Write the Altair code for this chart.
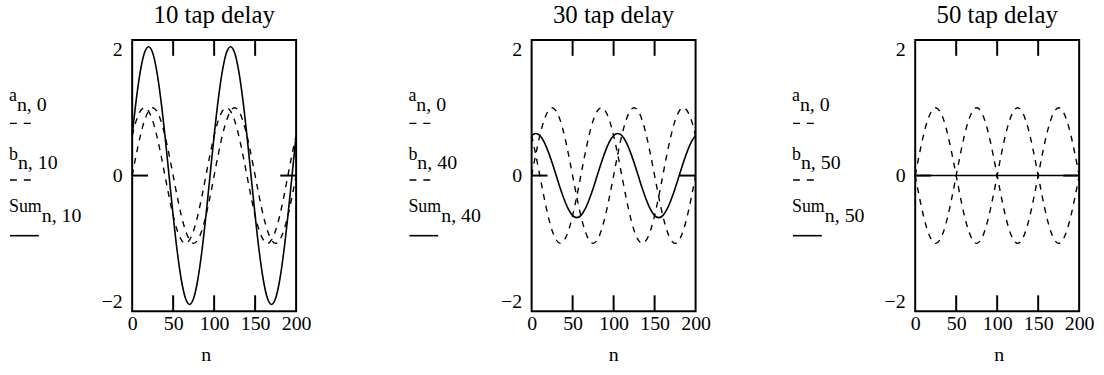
import altair as alt
import pandas as pd

# sample positions (n) and values
n = [0, 5, 10, 15, 20, 25, 30, 35, 40, 45, 50, 55, 60, 65, 70, 75, 80, 85, 90, 95,
     100, 105, 110, 115, 120, 125, 130, 135, 140, 145, 150, 155, 160, 165, 170, 175, 180, 185, 190, 195, 200]

a = [0, .31, .59, .81, .95, 1, .95, .81, .59, .31, 0, -.31, -.59, -.81, -.95, -1, -.95, -.81, -.59, -.31,
     0, .31, .59, .81, .95, 1, .95, .81, .59, .31, 0, -.31, -.59, -.81, -.95, -1, -.95, -.81, -.59, -.31, 0]

b10 = [.59, .81, .95, 1, .95, .81, .59, .31, 0, -.31, -.59, -.81, -.95, -1, -.95, -.81, -.59, -.31, 0, .31,
       .59, .81, .95, 1, .95, .81, .59, .31, 0, -.31, -.59, -.81, -.95, -1, -.95, -.81, -.59, -.31, 0, .31, .59]
s10 = [.59, 1.12, 1.54, 1.81, 1.9, 1.81, 1.54, 1.12, .59, 0, -.59, -1.12, -1.54, -1.81, -1.9, -1.81, -1.54, -1.12, -.59, 0,
       .59, 1.12, 1.54, 1.81, 1.9, 1.81, 1.54, 1.12, .59, 0, -.59, -1.12, -1.54, -1.81, -1.9, -1.81, -1.54, -1.12, -.59, 0, .59]

b40 = [.59, .31, 0, -.31, -.59, -.81, -.95, -1, -.95, -.81, -.59, -.31, 0, .31, .59, .81, .95, 1, .95, .81,
       .59, .31, 0, -.31, -.59, -.81, -.95, -1, -.95, -.81, -.59, -.31, 0, .31, .59, .81, .95, 1, .95, .81, .59]
s40 = [.59, .62, .59, .5, .36, .19, 0, -.19, -.36, -.5, -.59, -.62, -.59, -.5, -.36, -.19, 0, .19, .36, .5,
       .59, .62, .59, .5, .36, .19, 0, -.19, -.36, -.5, -.59, -.62, -.59, -.5, -.36, -.19, 0, .19, .36, .5, .59]

b50 = [0, -.31, -.59, -.81, -.95, -1, -.95, -.81, -.59, -.31, 0, .31, .59, .81, .95, 1, .95, .81, .59, .31,
       0, -.31, -.59, -.81, -.95, -1, -.95, -.81, -.59, -.31, 0, .31, .59, .81, .95, 1, .95, .81, .59, .31, 0]
s50 = [0, 0, 0, 0, 0, 0, 0, 0, 0, 0, 0, 0, 0, 0, 0, 0, 0, 0, 0, 0,
       0, 0, 0, 0, 0, 0, 0, 0, 0, 0, 0, 0, 0, 0, 0, 0, 0, 0, 0, 0, 0]

titles = ["10 tap delay", "30 tap delay", "50 tap delay"]
b_subs = ["n, 10", "n, 40", "n, 50"]
x_tick_values = [0, 50, 100, 150, 200]
y_tick_values = [-2, 0, 2]
inner_ticks = [50, 100, 150]

FONT = "Liberation Serif"
W, H = 165, 273
TICK = 16


def panel(bvals, svals, title, bsub, right_extent, title_x):
    df = pd.DataFrame({"n": n, "a": a, "b": bvals, "s": svals})
    xaxis = alt.Axis(values=x_tick_values, domain=False, ticks=False, grid=False,
                     labelFont=FONT, labelFontSize=20, labelPadding=2, labelColor="black",
                     labelOverlap=False, labelFlush=False,
                     title="n", titleFont=FONT, titleFontSize=20, titleFontWeight="normal",
                     titleColor="black", titleBaseline="alphabetic", titleY=50, titleX=title_x)
    xs = alt.Scale(domain=[0, 200], nice=False, zero=False)
    ys = alt.Scale(domain=[-2, 2], nice=False)
    yaxis = alt.Axis(values=y_tick_values, domain=False, ticks=False, grid=False,
                     labelFont=FONT, labelFontSize=20, labelPadding=10, labelFlush=True,
                     labelOverlap=False, labelColor="black", title=None)
    X = alt.X("n:Q", scale=xs, axis=xaxis)

    base = alt.Chart(df)
    la = base.mark_line(color="black", strokeWidth=1.4, strokeDash=[6, 6], interpolate="monotone").encode(
        x=X, y=alt.Y("a:Q", scale=ys, axis=yaxis))
    lb = base.mark_line(color="black", strokeWidth=1.4, strokeDash=[6, 6], interpolate="monotone").encode(
        x=X, y=alt.Y("b:Q", scale=ys, axis=yaxis))
    ls = base.mark_line(color="black", strokeWidth=1.6, interpolate="monotone").encode(
        x=X, y=alt.Y("s:Q", scale=ys, axis=yaxis))

    tdf = pd.DataFrame({"n": inner_ticks})
    top_t = alt.Chart(tdf).mark_rule(color="black", strokeWidth=2).encode(
        x=X, y=alt.value(0), y2=alt.value(TICK))
    bot_t = alt.Chart(tdf).mark_rule(color="black", strokeWidth=2).encode(
        x=X, y=alt.value(H - TICK), y2=alt.value(H))
    zdf = pd.DataFrame({"z": [0]})
    zl = alt.Chart(zdf).mark_rule(color="black", strokeWidth=2).encode(
        y=alt.Y("z:Q", scale=ys, axis=yaxis), x=alt.value(0), x2=alt.value(TICK))
    zr = alt.Chart(zdf).mark_rule(color="black", strokeWidth=2).encode(
        y=alt.Y("z:Q", scale=ys, axis=yaxis), x=alt.value(W - TICK), x2=alt.value(W))

    def txt(t, x, y, size):
        return alt.Chart(pd.DataFrame({"t": [t]})).mark_text(
            font=FONT, fontSize=size, align="left", baseline="alphabetic", color="black").encode(
            text="t:N", x=alt.value(x), y=alt.value(y))

    def sample(y, dashed):
        m = alt.Chart(pd.DataFrame({"t": [0]}))
        if dashed:
            m = m.mark_rule(color="black", strokeWidth=1.4, strokeDash=[7, 7])
        else:
            m = m.mark_rule(color="black", strokeWidth=1.6)
        return m.encode(x=alt.value(-123), x2=alt.value(-101 if dashed else -94), y=alt.value(y))

    legend = [
        txt("a", -124, 61, 18), txt("n, 0", -116, 72, 20), sample(84, True),
        txt("b", -124, 121, 18), txt(bsub, -115, 130, 20), sample(141, True),
        txt("Sum", -124, 173, 18), txt(bsub, -91, 183, 20), sample(197, False),
    ]

    ext_l = alt.Chart(pd.DataFrame({"t": [0]})).mark_rule(opacity=0).encode(
        x=alt.value(-130), y=alt.value(0), y2=alt.value(1))
    ext_r = alt.Chart(pd.DataFrame({"t": [0]})).mark_rule(opacity=0).encode(
        x=alt.value(right_extent), y=alt.value(0), y2=alt.value(1))

    return alt.layer(la, lb, ls, top_t, bot_t, zl, zr, *legend, ext_l, ext_r).properties(
        width=W, height=H,
        title=alt.TitleParams(title, font=FONT, fontSize=25, fontWeight="normal",
                              color="black", offset=11, anchor="middle"))


p1 = panel(b10, s10, titles[0], b_subs[0], 200, 74)
p2 = panel(b40, s40, titles[1], b_subs[1], 184, 82)
p3 = panel(b50, s50, titles[2], b_subs[2], 184, 84)

chart = alt.hconcat(p1, p2, p3, spacing=70).properties(
    padding={"left": 2, "top": 1, "right": 5, "bottom": 5}, background="white"
).configure_view(stroke="black", strokeWidth=2)

chart.save("out.html", embed_options={"renderer": "svg", "actions": False})
